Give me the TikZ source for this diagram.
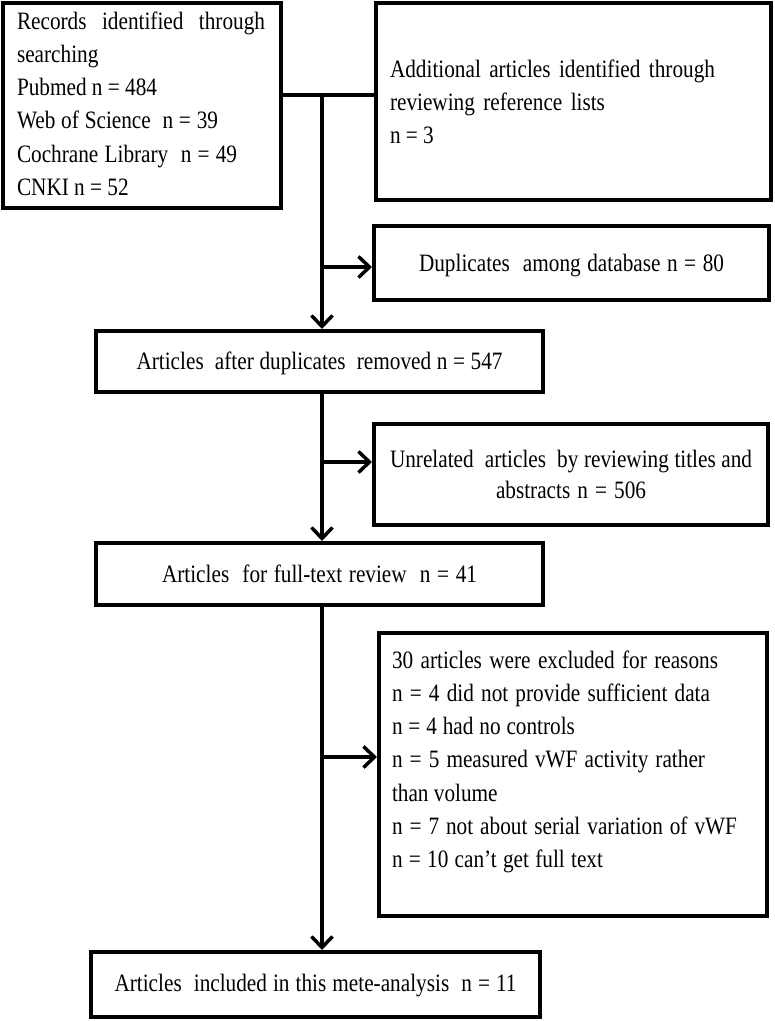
\documentclass[tikz,border=0pt]{standalone}
\usepackage{fontspec}
\setmainfont{Liberation Serif}[FakeStretch=0.85]
\usetikzlibrary{arrows.meta}
\newcommand{\sline}[2]{\makebox[#1pt][s]{#2}}
\newcommand{\lbox}[5]{\parbox[c][#2pt][t]{#1pt}{\leftskip=#3pt\relax\rule{0pt}{#4pt}#5}}
\newcommand{\cbox}[4]{\parbox[c][#2pt][t]{#1pt}{\centering\rule{0pt}{#3pt}#4}}
\tikzset{
  box/.style={draw, line width=4pt, inner sep=0pt, font=\fontsize{25}{33.3}\selectfont},
  conn/.style={line width=3.5pt},
  arr/.style={conn, -{Straight Barb[length=11pt,width=21pt]}}
}
\begin{document}
\begin{tikzpicture}[x=1pt,y=-1pt]
\useasboundingbox[fill=white] (0,0) rectangle (775,1021);
\node[box] (rec) at (142,105.5) {\lbox{278}{205}{14}{26}{%
\sline{248}{Records identified through}\\
searching\\
Pubmed n = 484\\
\sline{201}{Web of Science \ n = 39}\\
\sline{220}{Cochrane Library \ n = 49}\\
CNKI n = 52}};
\node[box] (add) at (573.5,101.5) {\lbox{395}{197}{14}{74}{%
\sline{325}{Additional articles identified through}\\
\sline{215}{reviewing reference lists}\\
n = 3}};
\node[box] (dup) at (571.5,263) {\cbox{395}{74}{45}{%
\sline{305}{Duplicates \ among database n = 80}}};
\node[box] (after) at (319.5,361.5) {\cbox{447}{61}{38}{%
\sline{366}{Articles \ after duplicates \ removed n = 547}}};
\node[box] (unrel) at (571,474.5) {\cbox{394}{101}{43}{\fontsize{25}{31}\selectfont
\sline{362}{Unrelated \ articles \ by reviewing titles and}\\
\sline{150}{abstracts n = 506}}};
\node[box] (full) at (319.5,574) {\cbox{447}{62}{39}{%
\sline{315}{Articles \ for full-text review \ n = 41}}};
\node[box] (excl) at (573,774.5) {\lbox{388}{283}{13}{35}{%
\sline{326}{30 articles were excluded for reasons}\\
\sline{318}{n = 4 did not provide sufficient data}\\
\sline{183}{n = 4 had no controls}\\
\sline{313}{n = 5 measured vWF activity rather}\\
than volume\\
\sline{345}{n = 7 not about serial variation of vWF}\\
\sline{211}{n = 10 can’t get full text}}};
\node[box] (final) at (315.5,984.5) {\cbox{449}{65}{39}{%
\sline{402}{Articles \ included in this mete-analysis \ n = 11}}};
\coordinate (j) at (322,95);
\coordinate (b1) at (322,267);
\coordinate (b2) at (322,462);
\coordinate (b3) at (322,757);
\draw[conn] (j -| rec.east) -- (j -| add.west);
\draw[arr] (j) -- (j |- after.north);
\draw[arr] (b1) -- (b1 -| dup.west);
\draw[arr] (j |- after.south) -- (j |- full.north);
\draw[arr] (b2) -- (b2 -| unrel.west);
\draw[arr] (j |- full.south) -- (j |- final.north);
\draw[arr] (b3) -- (b3 -| excl.west);
\end{tikzpicture}
\end{document}
